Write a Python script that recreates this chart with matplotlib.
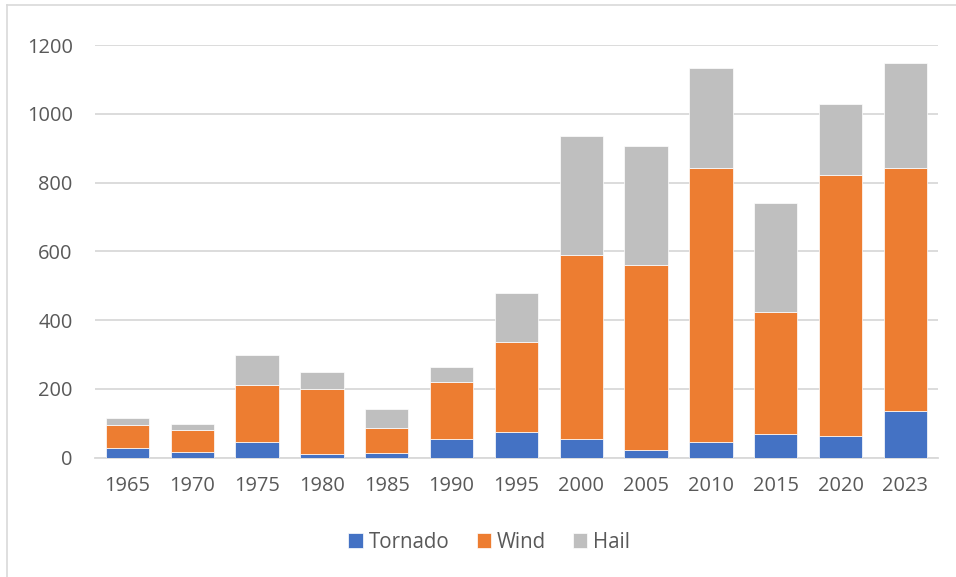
import matplotlib.pyplot as plt
from matplotlib.lines import Line2D
import numpy as np

years = ['1965', '1970', '1975', '1980', '1985', '1990', '1995',
         '2000', '2005', '2010', '2015', '2020', '2023']
tornado = [27, 17, 44, 11, 14, 53, 75, 53, 21, 44, 67, 62, 134]
wind = [68, 64, 168, 189, 73, 167, 262, 537, 540, 799, 356, 761, 707]
hail = [19, 17, 86, 48, 54, 44, 142, 345, 345, 290, 318, 204, 306]

plt.rcParams['font.family'] = ['Open Sans', 'DejaVu Sans']
txt = '#595959'

fig = plt.figure(figsize=(9.56, 5.77), dpi=100)
ax = fig.add_axes([0.0994, 0.2071, 0.8816, 0.7149])

x = np.arange(len(years))
w = 0.667
t = np.array(tornado)
wd = np.array(wind)
h = np.array(hail)
ax.bar(x, t, w, color='#4472C4', edgecolor='white', linewidth=0.5, label='Tornado', zorder=3)
ax.bar(x, wd, w, bottom=t, color='#ED7D31', edgecolor='white', linewidth=0.5, label='Wind', zorder=3)
ax.bar(x, h, w, bottom=t + wd, color='#BFBFBF', edgecolor='white', linewidth=0.5, label='Hail', zorder=3)

ax.set_xlim(-0.5, len(years) - 0.5)
ax.set_ylim(0, 1200)
ax.set_yticks(range(0, 1201, 200))
ax.set_xticks(x)
ax.set_xticklabels(years)
ax.grid(axis='y', color='#D9D9D9', linewidth=1.3, zorder=0)
for s in ['top', 'right', 'left']:
    ax.spines[s].set_visible(False)
ax.spines['bottom'].set_color('#D9D9D9')
ax.spines['bottom'].set_linewidth(1.3)
ax.tick_params(axis='both', length=0, labelsize=14.4, labelcolor=txt)
ax.tick_params(axis='y', pad=16)
ax.tick_params(axis='x', pad=13)

fig.legend(loc='center', bbox_to_anchor=(0.512, 0.06), ncol=3, frameon=False,
           fontsize=14.8, labelcolor=txt, handlelength=0.7, handleheight=0.7,
           handletextpad=0.3, columnspacing=1.3)

# chart frame
fig.add_artist(Line2D([7 / 956, 7 / 956], [0, 1 - 5 / 577], transform=fig.transFigure,
                      color='#D9D9D9', linewidth=1.2))
fig.add_artist(Line2D([7 / 956, 1], [1 - 5 / 577, 1 - 5 / 577], transform=fig.transFigure,
                      color='#D9D9D9', linewidth=1.2))

fig.savefig('out.png', dpi=100)
